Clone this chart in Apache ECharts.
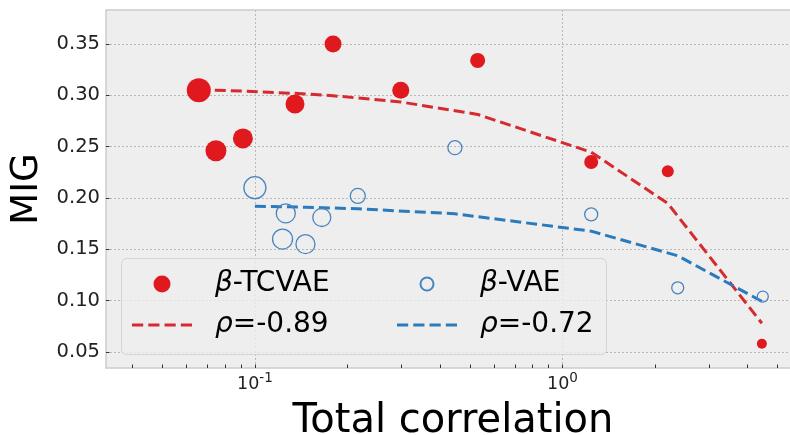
<!DOCTYPE html>
<html><head><meta charset="utf-8">
<script src="https://cdn.jsdelivr.net/npm/echarts@6/dist/echarts.min.js"></script>
<style>html,body{margin:0;padding:0;background:#fff;overflow:hidden}#c{width:802px;height:435px}</style>
</head><body><div id="c"></div>
<script>
// ---- data ----
const tcvaeX    = [0.0657, 0.0747, 0.0914, 0.135, 0.1795, 0.298, 0.530, 1.24, 2.20, 4.45];
const tcvaeY    = [0.305, 0.246, 0.258, 0.2915, 0.350, 0.305, 0.334, 0.235, 0.226, 0.058];
const tcvaeSize = [24, 21, 20, 19, 17, 17, 15, 14, 12, 10];
const vaeX      = [0.100, 0.126, 0.165, 0.123, 0.146, 0.216, 0.447, 1.24, 2.37, 4.48];
const vaeY      = [0.210, 0.185, 0.181, 0.160, 0.155, 0.202, 0.249, 0.184, 0.1125, 0.104];
const vaeSize   = [22, 19, 18, 20, 19, 15, 14, 13, 12, 11];
const tcvaeFitX = [0.0657, 0.0747, 0.0914, 0.135, 0.1795, 0.298, 0.530, 1.24, 2.20, 4.45];
const tcvaeFitY = [0.3055, 0.3050, 0.3041, 0.3019, 0.2996, 0.2935, 0.2814, 0.2446, 0.1947, 0.0780];
const vaeFitX   = [0.100, 0.123, 0.126, 0.146, 0.165, 0.216, 0.447, 1.24, 2.37, 4.48];
const vaeFitY   = [0.1920, 0.1915, 0.1914, 0.1910, 0.1906, 0.1895, 0.1846, 0.1677, 0.1437, 0.0988];
const yTicks      = [0.05, 0.10, 0.15, 0.20, 0.25, 0.30, 0.35];
const xMajorTicks = [0.1, 1];
const xMajorExp   = ['-1', '0'];
const xMinorTicks = [0.04, 0.05, 0.06, 0.07, 0.08, 0.09, 0.2, 0.3, 0.4, 0.5, 0.6, 0.7, 0.8, 0.9, 2, 3, 4, 5];
const names = ['β-TCVAE', 'β-VAE', 'ρ=-0.89', 'ρ=-0.72'];

const FONT = 'DejaVu Sans';
const RED = '#e0191e', REDLINE = '#d62a2e', BLUE = '#4a84bf', BLUELINE = '#2a7bbd';
const SPINE = {show: true, lineStyle: {color: '#cccccc', width: 1.5}};
const DASH_ICON = 'path://M0 0H11V3H0Z M16 0H27V3H16Z M32 0H43V3H32Z M48 0H59V3H48Z';
const zip = (a, b, c) => a.map((v, i) => c ? [v, b[i], c[i]] : [v, b[i]]);

const chart = echarts.init(document.getElementById('c'), null, {renderer: 'canvas'});
const legendText = {
  fontSize: 28, fontFamily: FONT, color: '#000',
  rich: {
    g: {fontSize: 28, fontFamily: FONT, fontStyle: 'italic', color: '#000', padding: [0, 0, 0, 18]},
    t: {fontSize: 28, fontFamily: FONT, color: '#000'}
  }
};
const legendFmt = n => n.replace(/^([βρ])(.*)$/, '{g|$1}{t|$2}');

chart.setOption({
  animation: false,
  grid: {left: 106, top: 10, width: 694, height: 358, show: true, backgroundColor: '#eeeeee',
         borderWidth: 0, containLabel: false, outerBoundsMode: 'none'},
  xAxis: [{
    type: 'log', logBase: 10, min: 0.0328, max: 5.92,
    name: 'Total correlation', nameLocation: 'middle', nameGap: 34,
    nameTextStyle: {fontSize: 40, fontFamily: FONT, color: '#000'},
    axisLine: SPINE,
    axisTick: {show: true, inside: true, length: 3.5, customValues: xMajorTicks, lineStyle: {color: '#333', width: 1}},
    axisLabel: {
      customValues: xMajorTicks, margin: 3,
      formatter: v => '{b|10}{s|' + xMajorExp[Math.round(Math.log10(v)) + 1] + '}',
      rich: {
        b: {fontSize: 17.5, fontFamily: FONT, color: '#222', lineHeight: 27},
        s: {fontSize: 13.5, fontFamily: FONT, color: '#222', lineHeight: 14, verticalAlign: 'top'}
      }
    },
    splitLine: {show: true, lineStyle: {color: '#b8b8b8', type: [2, 2], width: 1}}
  }, {
    type: 'log', logBase: 10, min: 0.0328, max: 5.92, position: 'bottom',
    axisLine: {show: false}, axisLabel: {show: false}, splitLine: {show: false},
    axisTick: {show: true, inside: true, length: 3.5, customValues: xMinorTicks, lineStyle: {color: '#333', width: 1}}
  }, {
    type: 'log', logBase: 10, min: 0.0328, max: 5.92, position: 'top',
    axisLine: SPINE, axisLabel: {show: false}, splitLine: {show: false}, axisTick: {show: false}
  }],
  yAxis: {
    type: 'value', min: 0.0344, max: 0.3831, minInterval: 0.05, maxInterval: 0.05,
    name: 'MIG', nameLocation: 'middle', nameGap: 51,
    nameTextStyle: {fontSize: 37, fontFamily: FONT, color: '#000'},
    axisLine: SPINE,
    axisTick: {show: true, inside: true, length: 3.5, customValues: yTicks, lineStyle: {color: '#333', width: 1}},
    axisLabel: {customValues: yTicks, margin: 6, fontSize: 19.5, fontFamily: FONT, color: '#222',
                formatter: v => v.toFixed(2)},
    splitLine: {show: true, lineStyle: {color: '#b8b8b8', type: [2, 2], width: 1}}
  },
  legend: [{
    data: [{name: names[0]}, {name: names[2], icon: DASH_ICON, itemStyle: {color: REDLINE}}],
    orient: 'vertical', left: 127, top: 265,
    itemWidth: 60, itemHeight: 17, itemGap: 13, formatter: legendFmt, textStyle: legendText,
    selectedMode: false
  }, {
    data: [{name: names[1]}, {name: names[3], icon: DASH_ICON, itemStyle: {color: BLUELINE}}],
    orient: 'vertical', left: 392, top: 265,
    itemWidth: 60, itemHeight: 13, itemGap: 13, formatter: legendFmt, textStyle: legendText,
    selectedMode: false
  }],
  graphic: [{
    type: 'rect', z: 3, silent: true,
    shape: {x: 121.5, y: 258.5, width: 485, height: 96, r: 5},
    style: {fill: 'rgba(238,238,238,0.8)', stroke: '#d4d4d4', lineWidth: 1}
  }],
  series: [{
    name: names[2], type: 'line', data: zip(tcvaeFitX, tcvaeFitY), symbol: 'none', z: 2,
    lineStyle: {color: REDLINE, width: 3, type: [11, 5]}, itemStyle: {color: REDLINE}
  }, {
    name: names[3], type: 'line', data: zip(vaeFitX, vaeFitY), symbol: 'none', z: 2,
    lineStyle: {color: BLUELINE, width: 3, type: [11, 5]}, itemStyle: {color: BLUELINE}
  }, {
    name: names[0], type: 'scatter', data: zip(tcvaeX, tcvaeY, tcvaeSize), z: 3,
    symbol: 'circle', symbolSize: d => d[2], itemStyle: {color: RED, opacity: 1}
  }, {
    name: names[1], type: 'scatter', data: zip(vaeX, vaeY, vaeSize), z: 3,
    symbol: 'circle', symbolSize: d => d[2],
    itemStyle: {color: 'rgba(255,255,255,0)', borderColor: BLUE, borderWidth: 1.3, opacity: 1}
  }]
});
</script></body></html>
